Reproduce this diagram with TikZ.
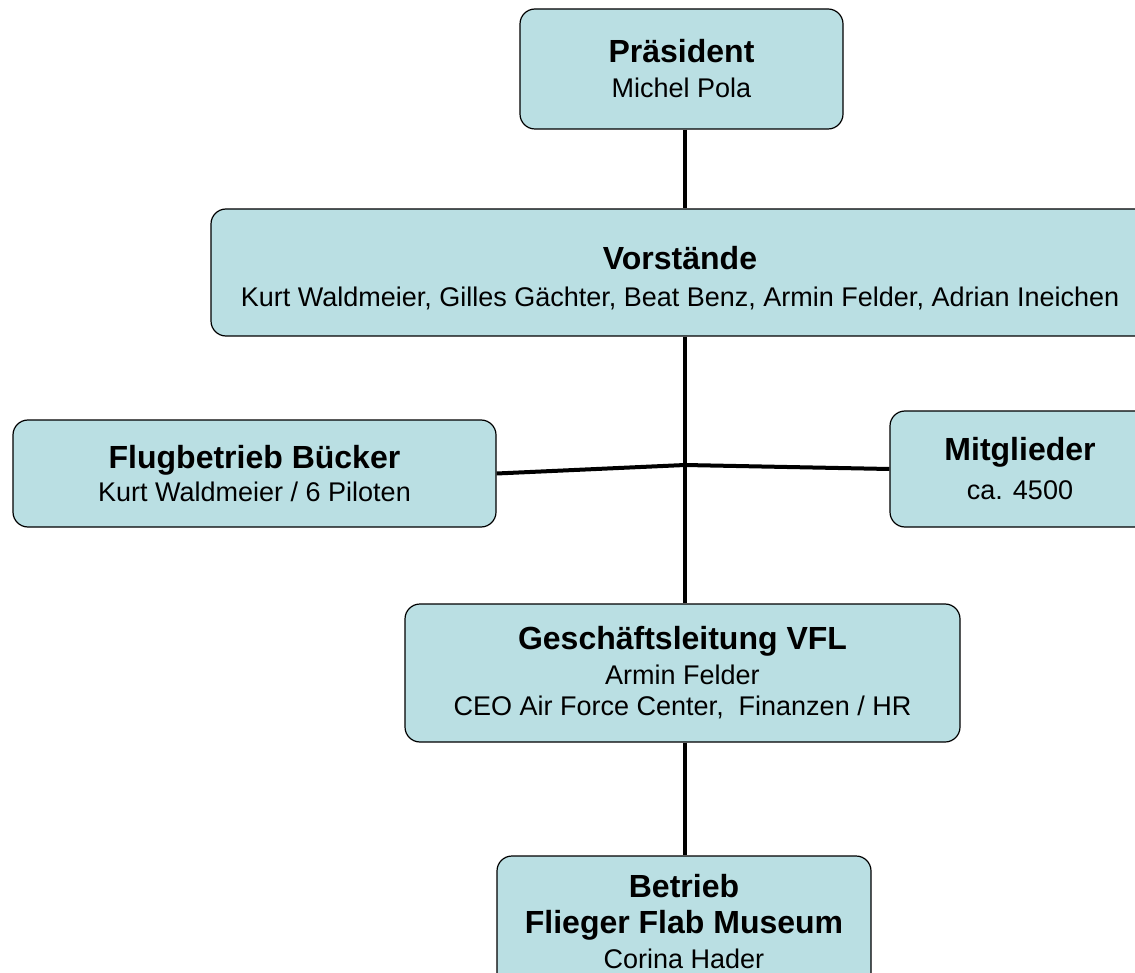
\documentclass[tikz,border=0pt]{standalone}
\usepackage{fontspec}
\setmainfont{Liberation Sans}
\definecolor{boxblue}{RGB}{186,223,227}
\newcommand{\ttl}{\bfseries\fontsize{32}{37}\selectfont}

\begin{document}
\begin{tikzpicture}[x=1pt, y=-1pt,
  box/.style = {shape=rectangle, rounded corners=15pt, draw, line width=1.2pt,
    fill=boxblue, align=center, inner sep=0pt, font=\fontsize{27}{31}\selectfont},
  link/.style = {line width=4pt}]

  \useasboundingbox (0,0) rectangle (1135,973);
  \clip (0,0) rectangle (1135,973);

  \node[box, minimum width=323pt, minimum height=120pt] (pres) at (681.5,69)
    {{\ttl Präsident}\\[4pt]Michel Pola};
  \node[box, minimum width=938pt, minimum height=127pt] (vorst) at (680,272.5)
    {~\\[3pt]{\ttl Vorstände}\\[6pt]Kurt Waldmeier, Gilles Gächter, Beat Benz, Armin Felder, Adrian Ineichen};
  \node[box, minimum width=483pt, minimum height=107pt] (flug) at (254.5,473.5)
    {{\ttl Flugbetrieb Bücker}\\[2pt]Kurt Waldmeier / 6 Piloten};
  \node[box, minimum width=260pt, minimum height=116pt] (mitg) at (1020,469)
    {{\ttl Mitglieder}\\[8pt]ca. 4500};
  \node[box, minimum width=555pt, minimum height=138pt] (gl) at (682.5,673)
    {{\ttl Geschäftsleitung VFL}\\[4pt]Armin Felder\\CEO Air Force Center,\ \ Finanzen / HR};
  \node[box, minimum width=374pt, minimum height=132pt] (betr) at (684,922)
    {{\ttl Betrieb}\\[5pt]{\ttl Flieger Flab Museum}\\[4pt]Corina Hader};

  \coordinate (j) at (685,465);

  \draw[link] (pres.south -| j) -- (vorst.north -| j);
  \draw[link] (vorst.south -| j) -- (gl.north -| j);
  \draw[link] (flug.east) -- (j) -- (mitg.west);
  \draw[link] (gl.south -| j) -- (betr.north -| j);
\end{tikzpicture}
\end{document}
